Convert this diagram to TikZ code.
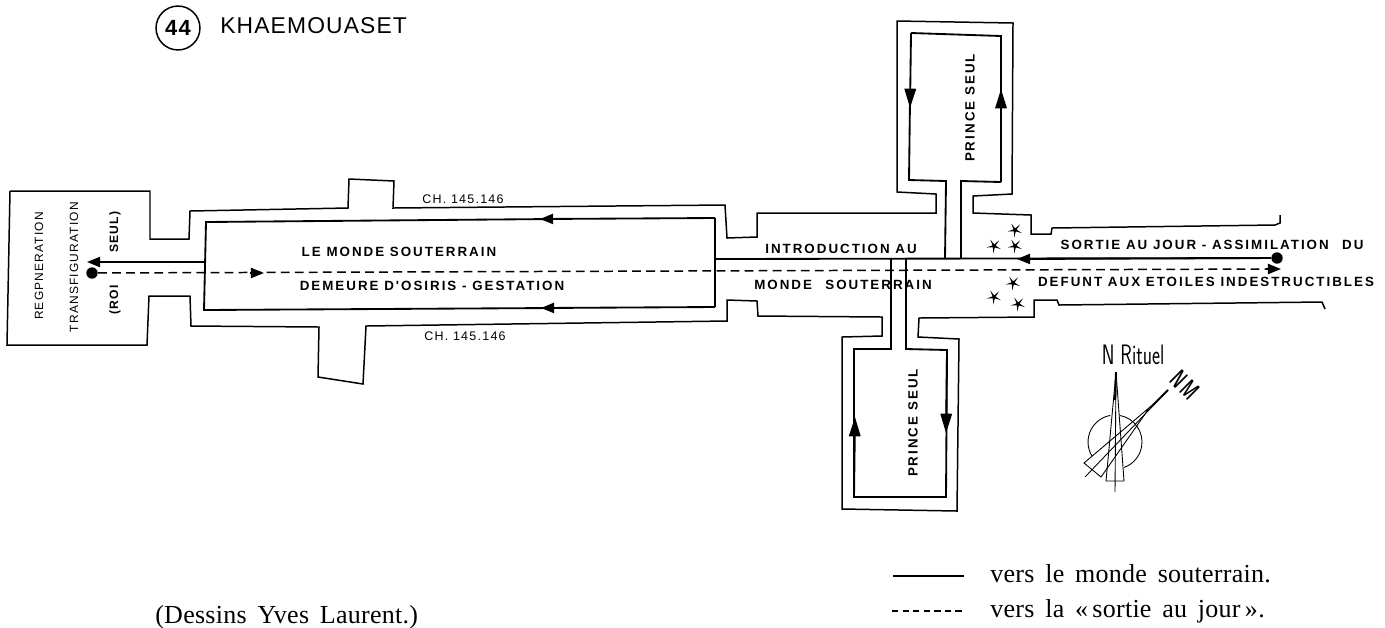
\documentclass[tikz,border=0pt]{standalone}
\usepackage{fontspec}
\setmainfont[LetterSpace=1,WordSpace=1.6]{Liberation Serif}
\newfontfamily\capsfont[LetterSpace=15]{Liberation Sans}
\newfontfamily\thinfont[LetterSpace=10]{Liberation Sans}
\newfontfamily\titlefont[LetterSpace=5]{Liberation Sans}
\usetikzlibrary{arrows.meta}
\usetikzlibrary{shapes.geometric}
\tikzset{
  wall/.style={line width=.85pt, line join=miter},
  route/.style={line width=1.05pt},
  retour/.style={line width=.85pt, dash pattern=on 5pt off 3pt},
  bigtip/.style={-{Triangle[length=11pt,width=6.5pt]}},
  maintip/.style={-{Triangle[length=7.5pt,width=5.8pt]}},
  grandlabel/.style={font=\capsfont\bfseries\fontsize{7.6}{9}\selectfont, inner sep=0pt},
  smalllabel/.style={font=\thinfont\bfseries\fontsize{6.9}{8}\selectfont, inner sep=0pt},
  thinlabel/.style={font=\thinfont\fontsize{6.8}{8}\selectfont, inner sep=0pt},
  legend/.style={font=\fontsize{14.8}{17}\selectfont, anchor=base west, inner sep=0pt},
  etoile/.style={star, star points=5, star point ratio=4.5, fill=black, inner sep=0pt, minimum size=8.5pt}
}
\begin{document}
\begin{tikzpicture}[x=.02cm, y=-.02cm]
\useasboundingbox (0,0) rectangle (1385,627);
% title
\node [draw, circle, line width=.85pt, minimum size=25pt, inner sep=0pt,
       font=\titlefont\bfseries\fontsize{12.5}{14}\selectfont] (num) at (178,28) {44};
\node [anchor=west, inner sep=0pt, font=\titlefont\fontsize{13}{15}\selectfont] (titre) at (220,26) {KHAEMOUASET};
% outer walls, upper side
\draw [wall] (10,191) -- (150,191) -- (150,239) -- (189,239) -- (190,211) -- (348,208) -- (349,179)
  -- (394,181) -- (393,208) -- (725,205) -- (727,238) -- (757,237) -- (757,213) -- (936,213)
  -- (936,194) -- (897,192) -- (897,21) -- (1013,23) -- (1012,194) -- (973,196) -- (973,213)
  -- (1031,215) -- (1031,234) -- (1051,234) -- (1052,228) -- (1275,225) -- (1280,223) -- (1280,215);
% outer walls, lower side
\draw [wall] (10,191) -- (7,345) -- (147,345) -- (149,296) -- (190,296) -- (191,326) -- (319,327)
  -- (318,377) -- (363,384) -- (366,326) -- (727,321) -- (727,300) -- (757,301) -- (758,316)
  -- (882,317) -- (882,336) -- (842,337) -- (842,509) -- (957,511) -- (959,339) -- (918,337)
  -- (919,318) -- (1034,317) -- (1034,300) -- (1057,300) -- (1059,305) -- (1322,302) -- (1325,309);
% great hall
\draw [route] (552,219) -- (206,222) -- (204,310) -- (553,308);
\draw [route, maintip] (715,218) -- (540,219);
\draw [route, maintip] (715,307) -- (541,308);
\draw [route] (715,218) -- (715,307);
% lateral chambers
\draw [route] (945,259) -- (946,181) -- (909,180) -- (910,100);
\draw [route, bigtip] (911,33) -- (910,108);
\draw [route] (961,259) -- (961,181) -- (1001,182);
\draw [route, bigtip] (1001,182) -- (1001,89);
\draw [route] (1001,95) -- (1001,36) -- (911,33);
\draw [route] (891,259) -- (891,349) -- (854,349) -- (854,497) -- (946,497) -- (947,350) -- (906,349) -- (906,259);
\draw [route, bigtip] (854,497) -- (855,417);
\draw [route, bigtip] (947,350) -- (946,433);
% axis
\node [circle, fill=black, minimum size=6.5pt, inner sep=0pt] (fond) at (92,273) {};
\node [circle, fill=black, minimum size=6.5pt, inner sep=0pt] (sortie) at (1277,258) {};
\coordinate (salleG) at (205,262);
\coordinate (salleD) at (715,259);
\coordinate (tipG) at (87,262);
\coordinate (tipD) at (1017,259);
\coordinate (tipE) at (1281,269);
\coordinate (tipM) at (264,273);
\draw [route, maintip] (salleG) -- (tipG);
\draw [route] (salleD) -- (sortie);
\draw [route, maintip] (sortie) -- (tipD);
\draw [retour] (fond) -- (1270,269);
\draw [route, maintip] (250,273) -- (tipM);
\draw [route, maintip] (1266,269) -- (tipE);
% stars
\foreach \n/\x/\y in {1/1015/230, 2/994/246, 3/1015/246, 4/1013/283, 5/994/297, 6/1018/304}
  \node [etoile, rotate=30] (etoile\n) at (\x,\y) {};
% labels
\node [grandlabel] (monde) at (399,252) {LE MONDE SOUTERRAIN};
\node [grandlabel] (demeure) at (432,286) {DEMEURE D'OSIRIS - GESTATION};
\node [font=\thinfont\fontsize{7.1}{8}\selectfont, inner sep=0pt] (chapH) at (463,199) {CH. 145.146};
\node [font=\thinfont\fontsize{7.1}{8}\selectfont, inner sep=0pt] (chapB) at (465,336) {CH. 145.146};
\node [grandlabel] (intro) at (841,249) {INTRODUCTION AU};
\node [grandlabel] (souterrain) at (843,285) {MONDE\quad SOUTERRAIN};
\node [grandlabel] (jour) at (1212,245) {SORTIE AU JOUR - ASSIMILATION\quad DU};
\node [grandlabel] (defunt) at (1206,282) {DEFUNT AUX ETOILES INDESTRUCTIBLES};
\node [thinlabel, rotate=90] (regen) at (39,266) {REGPNERATION};
\node [thinlabel, rotate=90] (transf) at (74,267) {TRANSFIGURATION};
\node [smalllabel, rotate=90] (roi) at (115,300) {(ROI};
\node [smalllabel, rotate=90] (seul) at (115,232) {SEUL)};
\node [grandlabel, rotate=90] (princeH) at (970,108) {PRINCE SEUL};
\node [grandlabel, rotate=90] (princeB) at (913,423) {PRINCE SEUL};
% orientation
\coordinate (centre) at (1115,442);
\draw [line width=.5pt] (centre) ++(212:.54cm) arc [start angle=212, end angle=100, radius=.54cm];
\draw [line width=.5pt] (centre) ++(80:.54cm) arc [start angle=80, end angle=-70, radius=.54cm];
\draw [line width=.5pt, fill=white] (1116,372) -- (1106,481) -- (1124,481) -- cycle;
\draw [line width=.5pt] (1116,372) -- (1115,492);
\draw [line width=1.1pt] (1116,372) -- (1115,400);
\draw [line width=.5pt] (1150,407) -- (1084,463) -- (1101,477) -- cycle;
\draw [line width=.5pt] (1168,390) -- (1085,477);
\draw [line width=1.1pt] (1168,390) -- (1150,408);
\node [inner sep=0pt, font=\sffamily\fontsize{16}{18}\selectfont] (rituel) at (1133,355) {\scalebox{.68}[1]{N Rituel}};
\node [inner sep=0pt, rotate=-45, font=\sffamily\bfseries\fontsize{15}{17}\selectfont] (nm) at (1185,385) {\scalebox{.55}[1]{N\,M}};
% legend
\coordinate (traitA) at (893,576);
\coordinate (traitB) at (964,576);
\coordinate (tiretA) at (892,611);
\coordinate (tiretB) at (965,611);
\draw [wall] (traitA) -- (traitB);
\draw [line width=.7pt, dash pattern=on 3.6pt off 2.4pt] (tiretA) -- (tiretB);
\node [legend] (versA) at (990,582) {vers le monde souterrain.};
\node [legend] (versB) at (990,617) {vers la «\,sortie au jour\,».};
\node [legend] (dessins) at (155,623) {(Dessins Yves Laurent.)};
\end{tikzpicture}
\end{document}
